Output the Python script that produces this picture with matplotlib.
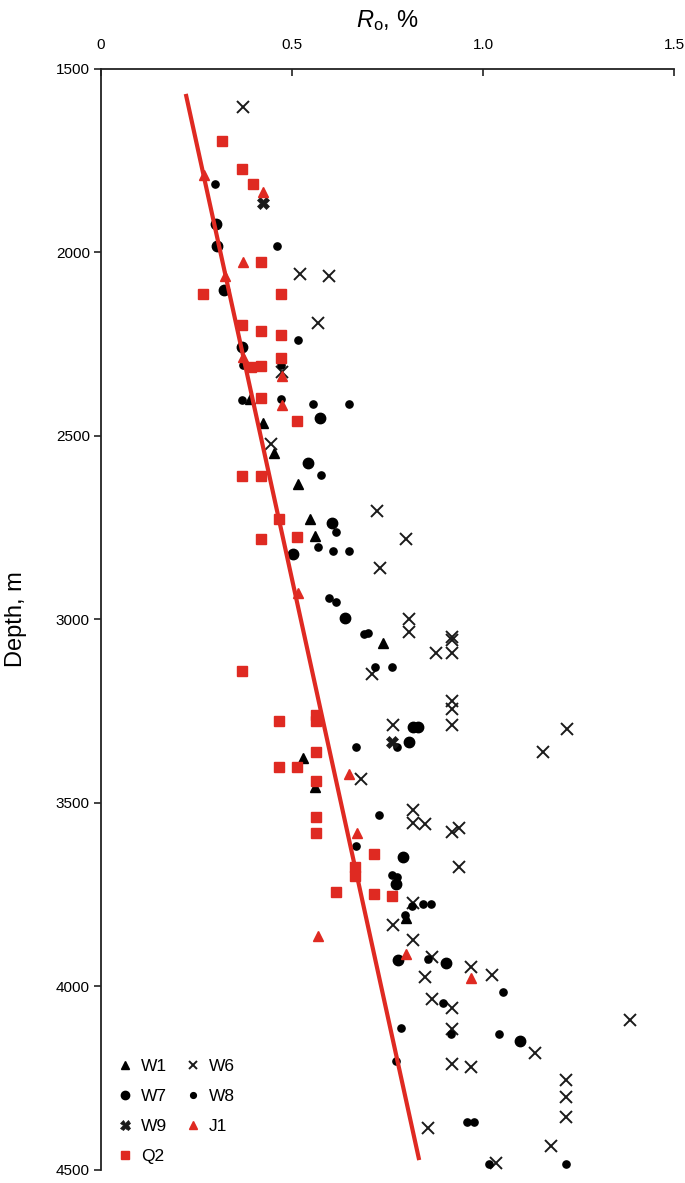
import matplotlib
matplotlib.use("Agg")
import matplotlib.pyplot as plt

plt.rcParams['font.family'] = ['Liberation Sans', 'DejaVu Sans']
plt.rcParams['mathtext.fontset'] = 'custom'
plt.rcParams['mathtext.rm'] = 'Liberation Sans'
plt.rcParams['mathtext.it'] = 'Liberation Sans:italic'

RED = '#df2a22'

# (Ro %, depth m)
w1_ro = [0.389, 0.423, 0.454, 0.517, 0.548, 0.559, 0.739, 0.530, 0.559, 0.799]
w1_depth = [2399, 2465, 2546, 2631, 2726, 2772, 3064, 3377, 3456, 3813]

w6_ro = [0.371, 0.520, 0.598, 0.569, 0.473, 0.444, 0.723, 0.799, 0.731, 0.807,
         0.807, 0.919, 0.919, 0.877, 0.919, 0.710, 0.919, 0.919, 0.919, 0.765,
         1.219, 1.157, 0.681, 0.817, 0.817, 0.849, 0.919, 0.937, 0.937, 0.817,
         0.765, 0.817, 0.867, 0.969, 0.849, 1.024, 0.867, 0.919, 0.919, 0.919,
         0.969, 1.386, 1.136, 1.217, 1.217, 1.217, 0.856, 1.178, 1.034]
w6_depth = [1604, 2059, 2064, 2192, 2325, 2522, 2704, 2781, 2860, 2999,
            3034, 3048, 3056, 3091, 3091, 3149, 3222, 3244, 3287, 3287,
            3298, 3361, 3435, 3520, 3555, 3557, 3579, 3568, 3674, 3773,
            3832, 3873, 3920, 3947, 3974, 3969, 4035, 4058, 4116, 4211,
            4219, 4091, 4181, 4255, 4301, 4356, 4386, 4435, 4481]

w7_ro = [0.300, 0.305, 0.321, 0.368, 0.574, 0.543, 0.606, 0.504, 0.640, 0.817,
         0.830, 0.807, 0.791, 0.773, 0.778, 0.903, 1.097]
w7_depth = [1922, 1982, 2102, 2257, 2451, 2574, 2737, 2822, 2997, 3293,
            3293, 3334, 3647, 3721, 3928, 3936, 4148]

w8_ro = [0.298, 0.460, 0.517, 0.371, 0.470, 0.368, 0.470, 0.556, 0.648, 0.577,
         0.616, 0.567, 0.608, 0.648, 0.598, 0.616, 0.689, 0.700, 0.718, 0.762,
         0.775, 0.668, 0.728, 0.668, 0.762, 0.775, 0.815, 0.843, 0.864, 0.796,
         0.856, 1.052, 0.896, 0.786, 0.916, 1.042, 0.773, 0.958, 0.977, 1.015,
         1.217]
w8_depth = [1813, 1982, 2238, 2306, 2306, 2402, 2399, 2413, 2413, 2606,
            2762, 2802, 2813, 2813, 2941, 2952, 3040, 3037, 3129, 3129,
            3347, 3347, 3533, 3617, 3696, 3702, 3781, 3775, 3775, 3805,
            3925, 4015, 4046, 4113, 4130, 4130, 4203, 4369, 4369, 4484,
            4484]

w9_ro = [0.423, 0.762]
w9_depth = [1865, 3334]

j1_ro = [0.269, 0.423, 0.371, 0.324, 0.371, 0.475, 0.475, 0.517, 0.650, 0.671,
         0.569, 0.799, 0.969]
j1_depth = [1789, 1835, 2026, 2064, 2285, 2336, 2416, 2928, 3421, 3582,
            3862, 3911, 3977]

q2_ro = [0.316, 0.368, 0.397, 0.418, 0.266, 0.470, 0.368, 0.418, 0.470, 0.470,
         0.394, 0.420, 0.420, 0.514, 0.368, 0.418, 0.467, 0.418, 0.514, 0.368,
         0.467, 0.564, 0.564, 0.564, 0.467, 0.514, 0.564, 0.564, 0.564, 0.715,
         0.666, 0.666, 0.614, 0.715, 0.762]
q2_depth = [1696, 1772, 1813, 2026, 2113, 2113, 2198, 2213, 2225, 2287,
            2312, 2309, 2396, 2459, 2609, 2609, 2726, 2781, 2775, 3140,
            3276, 3260, 3276, 3361, 3402, 3402, 3440, 3538, 3582, 3639,
            3674, 3699, 3743, 3749, 3754]

# trend line end points
trend_ro = [0.222, 0.833]
trend_depth = [1568, 4473]

fig = plt.figure(figsize=(6.85, 11.83), dpi=100)
ax = fig.add_axes([0.1474, 0.011, 0.8365, 0.9307])

ax.plot(trend_ro, trend_depth, color=RED, lw=3, zorder=3, solid_capstyle='butt')

h_w1, = ax.plot(w1_ro, w1_depth, ls='none', marker='^', ms=7.5, color='black', zorder=2, label='W1')
h_w6, = ax.plot(w6_ro, w6_depth, ls='none', marker='x', ms=8, mew=1.4, color='#1a1a1a', zorder=2, label='W6')
h_w7, = ax.plot(w7_ro, w7_depth, ls='none', marker='o', ms=7.5, color='black', zorder=2, label='W7')
h_w8, = ax.plot(w8_ro, w8_depth, ls='none', marker='o', ms=5.2, color='black', zorder=2, label='W8')
h_w9, = ax.plot(w9_ro, w9_depth, ls='none', marker='X', ms=9, mew=0.5, color='#1a1a1a', zorder=2, label='W9')
h_j1, = ax.plot(j1_ro, j1_depth, ls='none', marker='^', ms=7.5, color=RED, zorder=4, label='J1')
h_q2, = ax.plot(q2_ro, q2_depth, ls='none', marker='s', ms=7.5, color=RED, zorder=4, label='Q2')

ax.set_xlim(0, 1.5)
ax.set_ylim(4500, 1500)
ax.xaxis.tick_top()
ax.xaxis.set_label_position('top')
ax.set_xticks([0, 0.5, 1.0, 1.5])
ax.set_xticklabels(['0', '0.5', '1.0', '1.5'])
ax.set_yticks([1500, 2000, 2500, 3000, 3500, 4000, 4500])
ax.tick_params(axis='x', direction='in', length=5, width=1.2, pad=12, labelsize=11, color='#222222')
ax.tick_params(axis='y', direction='out', length=5, width=1.2, pad=3, labelsize=11, color='#222222')

for side in ['right', 'bottom']:
    ax.spines[side].set_visible(False)
for side in ['top', 'left']:
    ax.spines[side].set_linewidth(1.3)
    ax.spines[side].set_color('#222222')

ax.set_xlabel(r'$R_{\mathrm{o}}$, %', fontsize=17, labelpad=8)
ax.set_ylabel('Depth, m', fontsize=17, labelpad=21)

ax.legend(handles=[h_w1, h_w7, h_w9, h_q2, h_w6, h_w8, h_j1], ncol=2, loc='lower left',
          frameon=False, fontsize=12.5, handlelength=0.6, handletextpad=0.6,
          columnspacing=1.2, labelspacing=0.85, borderaxespad=0.2,
          bbox_to_anchor=(0.015, -0.004), markerscale=0.8)

fig.savefig('out.png', dpi=100)
